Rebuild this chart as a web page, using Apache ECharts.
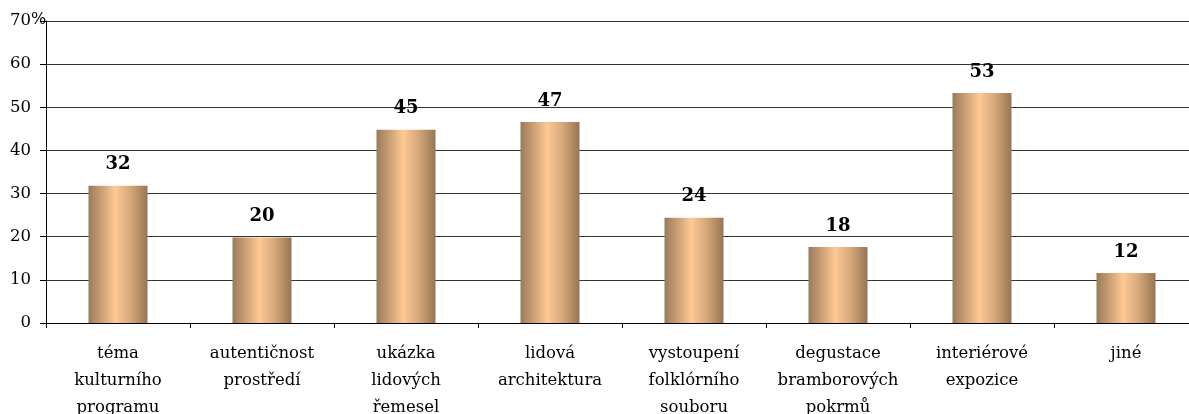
<!DOCTYPE html>
<html>
<head>
<meta charset="utf-8">
<script src="https://cdn.jsdelivr.net/npm/echarts@6/dist/echarts.min.js"></script>
<style>
  html, body { margin: 0; padding: 0; background: #fff; }
  #myChart { width: 1189px; height: 414px; }
</style>
</head>
<body>
<div id="myChart"></div>
<script>
// categories and values
var categories = [
  'téma\nkulturního\nprogramu',
  'autentičnost\nprostředí',
  'ukázka\nlidových\nřemesel',
  'lidová\narchitektura',
  'vystoupení\nfolklórního\nsouboru',
  'degustace\nbramborových\npokrmů',
  'interiérové\nexpozice',
  'jiné'
];
var values = [31.8, 19.8, 44.8, 46.6, 24.4, 17.6, 53.3, 11.6];
var yTicks = [0, 10, 20, 30, 40, 50, 60, 70];

var serif = '"DejaVu Serif", "Liberation Serif", serif';

var barColor = new echarts.graphic.LinearGradient(0, 0, 1, 0, [
  { offset: 0, color: '#9a7a5a' },
  { offset: 0.2, color: '#c59c72' },
  { offset: 0.45, color: '#fec994' },
  { offset: 0.7, color: '#d8aa7c' },
  { offset: 1, color: '#957556' }
]);

var myChart = echarts.init(document.getElementById('myChart'));
var option = {
  animation: false,
  grid: { left: 46, right: -9, top: 21, bottom: 91, outerBoundsMode: 'none', containLabel: false },
  graphic: [{
    type: 'text', left: 31, top: 12,
    style: { text: '%', font: '16px ' + serif, fill: '#000' }
  }],
  xAxis: {
    type: 'category',
    data: categories,
    axisLine: { lineStyle: { color: '#000', width: 1 } },
    axisTick: { show: true, length: 5, lineStyle: { color: '#000' } },
    axisLabel: {
      interval: 0,
      margin: 17,
      fontFamily: serif,
      fontSize: 16.5,
      lineHeight: 27,
      color: '#000'
    }
  },
  yAxis: {
    type: 'value',
    min: yTicks[0],
    max: yTicks[yTicks.length - 1],
    interval: 10,
    axisLine: { show: true, lineStyle: { color: '#000' } },
    axisTick: { show: true, length: 6, lineStyle: { color: '#000' } },
    axisLabel: { fontFamily: serif, fontSize: 16.5, color: '#000', margin: 15 },
    splitLine: { lineStyle: { color: '#333', width: 1 } }
  },
  series: [{
    type: 'bar',
    data: values,
    barWidth: 59,
    itemStyle: { color: barColor },
    label: {
      show: true,
      position: 'top',
      distance: 12,
      fontFamily: serif,
      fontWeight: 'bold',
      fontSize: 18,
      color: '#000',
      formatter: function (p) { return Math.round(p.value); }
    }
  }]
};
myChart.setOption(option, true);
</script>
</body>
</html>
